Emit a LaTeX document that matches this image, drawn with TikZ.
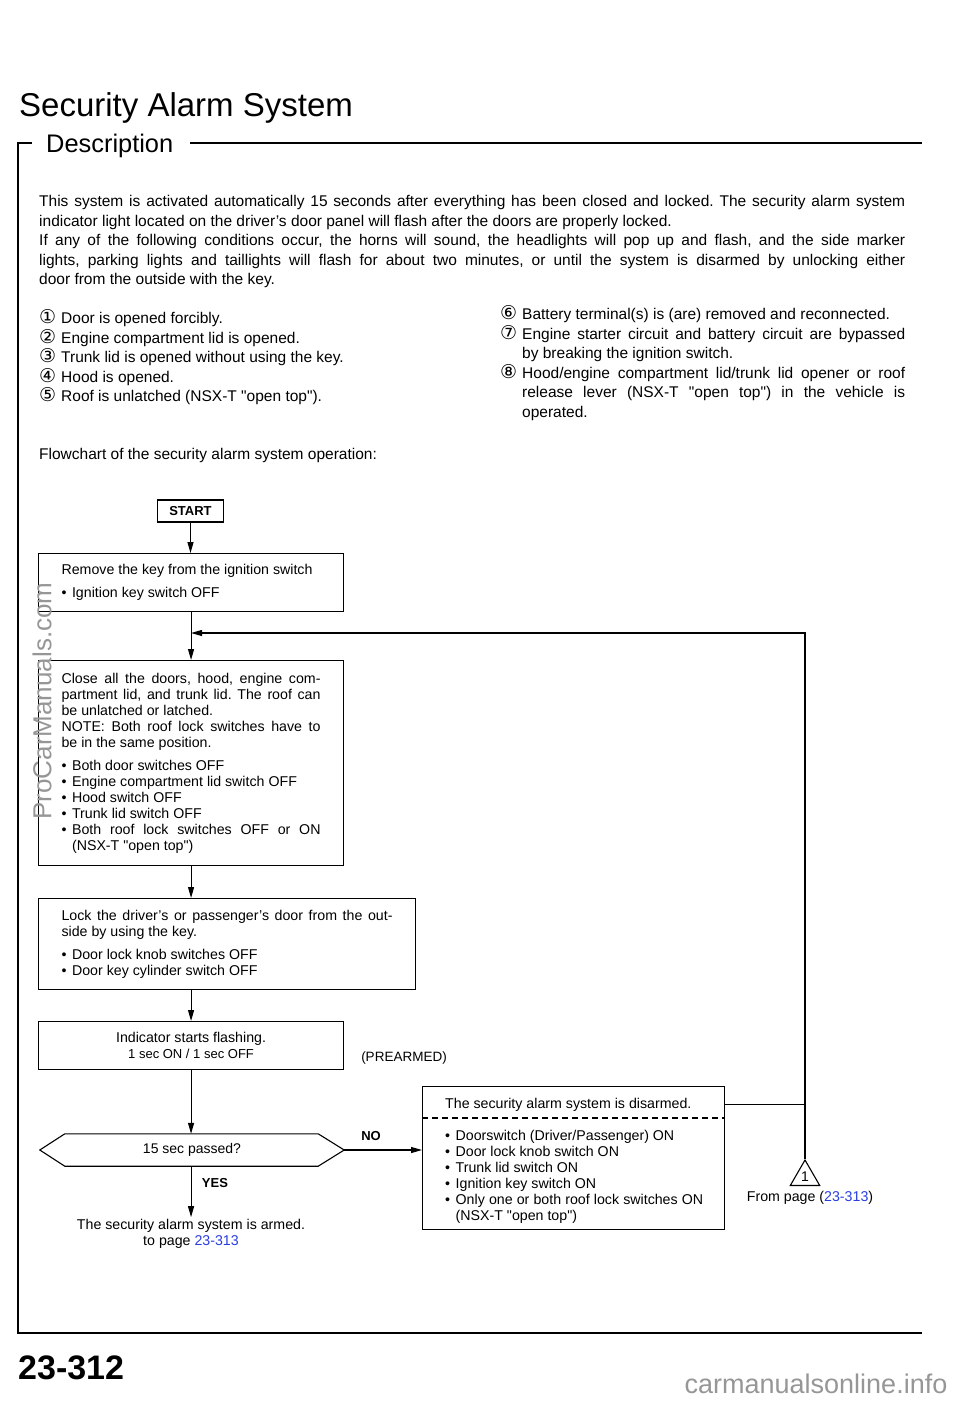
\documentclass[tikz,border=0pt]{standalone}
\usepackage{fontspec}
\setmainfont{Liberation Sans}
\newfontfamily\circfont{DejaVu Sans}
\usetikzlibrary{arrows.meta,positioning,shapes.geometric}
\definecolor{linkblue}{RGB}{40,60,225}
\definecolor{markgray}{RGB}{150,150,150}
\tolerance=5000
\frenchspacing
\newcommand{\cnum}[1]{\makebox[22pt][l]{\circfont\fontsize{19}{19}\selectfont #1}}
\newcommand{\bul}{\makebox[10.5pt][l]{\textbullet}}
\newcommand{\bitem}{\par\hangindent=10.5pt\hangafter=1\bul}
\newcommand{\citem}{\par\hangindent=22pt\hangafter=1}
\newcommand{\qq}{\textquotedbl}

\begin{document}
\begin{tikzpicture}[x=1pt,y=-1pt,
  frame/.style={line width=2.4pt},
  box/.style={draw, line width=1.1pt, anchor=north west, inner xsep=23pt, inner ysep=0pt, font=\fontsize{14.2}{16}\selectfont},
  arr/.style={line width=1.1pt, -{Triangle[length=11pt,width=6pt]}},
  line/.style={line width=1.1pt},
  para/.style={anchor=base west, inner sep=0pt, font=\fontsize{15.5}{19.5}\selectfont},
  lbl/.style={font=\bfseries\fontsize{13}{13}\selectfont}]
 \useasboundingbox (0,0) rectangle (960,1402);
 % heading and frame
 \node[anchor=base west, inner sep=0pt, font=\fontsize{33}{33}\selectfont] (title) at (19,117) {Security Alarm System};
 \node[anchor=base west, inner sep=0pt, font=\fontsize{25.4}{25.4}\selectfont] (desc) at (46,152) {Description};
 \draw[frame] (32,143) -- (18,143) -- (18,1333) -- (922,1333);
 \draw[frame] (190,143) -- (922,143);
 \node[anchor=base west, inner sep=0pt, font=\bfseries\fontsize{34}{34}\selectfont] (pageno) at (18,1379) {23-312};
 %
 \node[para] (intro) at (39,206.5) {\parbox[t]{866pt}{This system is activated automatically 15 seconds after everything has been closed and locked. The security alarm system\linebreak indicator light located on the driver's door panel will flash after the doors are properly locked.\par If any of the following conditions occur, the horns will sound, the headlights will pop up and flash, and the side marker\linebreak lights, parking lights and taillights will flash for about two minutes, or until the system is disarmed by unlocking either\linebreak door from the outside with the key.}};
 \node[para] (condA) at (39,323.5) {\parbox[t]{330pt}{\cnum{①}Door is opened forcibly.\par\cnum{②}Engine compartment lid is opened.\par\cnum{③}Trunk lid is opened without using the key.\par\cnum{④}Hood is opened.\par\cnum{⑤}Roof is unlatched (NSX-T \qq open top\qq).}};
 \node[para] (condB) at (500,319.5) {\parbox[t]{405pt}{\citem\cnum{⑥}Battery terminal(s) is (are) removed and reconnected.\citem\cnum{⑦}Engine starter circuit and battery circuit are bypassed\linebreak by breaking the ignition switch.\citem\cnum{⑧}Hood/engine compartment lid/trunk lid opener or roof\linebreak release lever (NSX-T \qq open top\qq) in the vehicle is\linebreak operated.}};
 \node[para] (flowlbl) at (39,459.5) {Flowchart of the security alarm system operation:};
 %
 % flowchart
 \node[draw, line width=1.1pt, minimum width=66pt, minimum height=22pt, inner sep=0pt, font=\bfseries\fontsize{13}{13}\selectfont] (start) at (190.5,511) {START};
 \node[box, minimum height=58pt] (remove) at (38,553) {\parbox{259pt}{Remove the key from the ignition switch\par\vspace{7pt}\bul Ignition key switch OFF}};
 \node[box, minimum height=205pt] (close) at (38,660) {\parbox{259pt}{Close all the doors, hood, engine com-\linebreak partment lid, and trunk lid. The roof can\linebreak be unlatched or latched.\par NOTE: Both roof lock switches have to\linebreak be in the same position.\par\vspace{7pt}\bitem Both door switches OFF\bitem Engine compartment lid switch OFF\bitem Hood switch OFF\bitem Trunk lid switch OFF\bitem Both roof lock switches OFF or ON\linebreak (NSX-T \qq open top\qq)}};
 \node[box, minimum height=91pt] (lock) at (38,898) {\parbox{331pt}{Lock the driver's or passenger's door from the out-\linebreak side by using the key.\par\vspace{7pt}\bitem Door lock knob switches OFF\bitem Door key cylinder switch OFF}};
 \node[box, minimum width=305pt, minimum height=48pt, align=center] (ind) at (38,1021) {Indicator starts flashing.\\{\fontsize{13}{15}\selectfont 1 sec ON / 1 sec OFF}};
 \node[font=\fontsize{13.5}{14}\selectfont] (prearm) at (404,1058) {(PREARMED)};
 \node[minimum width=304pt, minimum height=32pt, inner sep=0pt, font=\fontsize{14}{14}\selectfont] (wait) at (192,1150) {15 sec passed?};
 \draw[line] (wait.west) -- ([xshift=25pt]wait.north west) -- ([xshift=-26pt]wait.north east) -- (wait.east) -- ([xshift=-26pt]wait.south east) -- ([xshift=25pt]wait.south west) -- cycle;
 \node[align=center, inner sep=2pt, font=\fontsize{14.2}{16}\selectfont] (armed) at (191,1234) {The security alarm system is armed.\\to page \textcolor{linkblue}{23-313}};
 \node[lbl] (nolbl) at (371,1136) {NO};
 \node[lbl] (yeslbl) at (215,1183) {YES};
 %
 \node[box, minimum width=302pt, minimum height=143pt, inner sep=0pt] (disarm) at (422,1086) {};
 \node[para, font=\fontsize{14.2}{16}\selectfont] (distitle) at (445,1108) {The security alarm system is disarmed.};
 \draw[line, dash pattern=on 6pt off 4pt] (disarm.west |- 0,1118) -- (disarm.east |- 0,1118);
 \node[para, font=\fontsize{14.2}{16}\selectfont] (dislist) at (445,1140) {\parbox[t]{258pt}{\bitem Doorswitch (Driver/Passenger) ON\bitem Door lock knob switch ON\bitem Trunk lid switch ON\bitem Ignition key switch ON\bitem Only one or both roof lock switches ON\linebreak (NSX-T \qq open top\qq)}};
 \node[draw, line width=1.1pt, regular polygon, regular polygon sides=3, minimum size=34pt, inner sep=0pt, font=\fontsize{14}{14}\selectfont] (fromtri) at (805,1177) {1};
 \node[font=\fontsize{14.2}{14}\selectfont] (frompage) at (810,1198) {From page (\textcolor{linkblue}{23-313})};
 %
 \draw[arr] (start) -- (start |- remove.north);
 \draw[arr] (remove) -- (remove |- close.north);
 \draw[arr] (remove.south |- close.south) -- (remove.south |- lock.north);
 \draw[arr] (remove.south |- lock.south) -- (ind);
 \draw[arr] (ind) -- (ind |- wait.north);
 \draw[arr] (ind |- wait.south) -- (ind |- armed.north);
 \draw[arr] (wait.east) -- (disarm.west |- wait.east);
 \coordinate (loopin) at (remove.south |- 0,633);
 \coordinate (loopturn) at (fromtri.north |- loopin);
 \draw[arr] (fromtri.north) -- (loopturn) -- (loopin);
 \draw[line] (disarm.east |- distitle) -- (fromtri.north |- distitle);
 %
 % scan marks
 \node[rotate=90, text=markgray, font=\fontsize{26}{26}\selectfont] (markA) at (42,701) {ProCarManuals.com};
 \node[text=markgray, font=\fontsize{27}{27}\selectfont] (markB) at (816,1384) {carmanualsonline.info};
\end{tikzpicture}
\end{document}
